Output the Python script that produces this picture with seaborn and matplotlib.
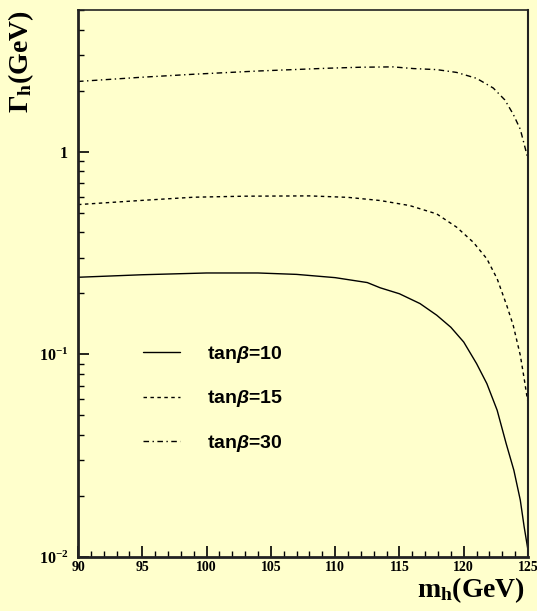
import numpy as np
import pandas as pd
import matplotlib
matplotlib.use("Agg")
import matplotlib.pyplot as plt
import matplotlib.ticker as mticker
import seaborn as sns

# ---- data ----
m_tb10 = [90, 95, 100, 104, 107, 110, 112.5, 113.5, 115.0, 116.6, 117.9, 119.0, 120.0, 121.0,
          121.8, 122.6, 123.3, 123.9, 124.4, 124.7, 125]
g_tb10 = [0.240, 0.247, 0.252, 0.252, 0.248, 0.239, 0.226, 0.213, 0.199, 0.178, 0.156, 0.136,
          0.115, 0.090, 0.0717, 0.053, 0.0363, 0.0268, 0.0191, 0.0141, 0.0108]

m_tb15 = [90, 95, 99, 103, 108, 111, 113.5, 115.8, 117.9, 119.45, 120.75, 121.8, 122.6, 123.35,
          123.85, 124.4, 124.7, 124.9, 125]
g_tb15 = [0.548, 0.575, 0.596, 0.603, 0.605, 0.595, 0.574, 0.542, 0.493, 0.424, 0.357, 0.296,
          0.236, 0.174, 0.139, 0.099, 0.076, 0.063, 0.058]

m_tb30 = [90, 95, 99, 104, 109.4, 112, 114.5, 116.1, 117.9, 119.45, 121.0, 122.3, 123.2, 123.85,
          124.4, 124.7, 125]
g_tb30 = [2.22, 2.33, 2.41, 2.50, 2.58, 2.61, 2.62, 2.57, 2.54, 2.46, 2.30, 2.06, 1.80, 1.53,
          1.29, 1.09, 0.92]

series_labels = [r"tan$\beta$=10", r"tan$\beta$=15", r"tan$\beta$=30"]
x_ticks = [90, 95, 100, 105, 110, 115, 120, 125]
y_ticks = [0.01, 0.1, 1]
y_tick_labels = [r"$\mathbf{10^{-2}}$", r"$\mathbf{10^{-1}}$", r"$\mathbf{1}$"]

df = pd.concat([
    pd.DataFrame({"m": m_tb10, "G": g_tb10, "s": series_labels[0]}),
    pd.DataFrame({"m": m_tb15, "G": g_tb15, "s": series_labels[1]}),
    pd.DataFrame({"m": m_tb30, "G": g_tb30, "s": series_labels[2]}),
], ignore_index=True)

bg = "#ffffcc"
sns.set_style("ticks")
plt.rcParams["font.family"] = ["Liberation Serif", "DejaVu Serif"]
plt.rcParams["text.color"] = "black"
plt.rcParams["xtick.color"] = "black"
plt.rcParams["ytick.color"] = "black"
plt.rcParams["xtick.labelcolor"] = "black"
plt.rcParams["ytick.labelcolor"] = "black"
plt.rcParams["mathtext.fontset"] = "custom"
plt.rcParams["mathtext.rm"] = "Liberation Serif"
plt.rcParams["mathtext.bf"] = "Liberation Serif:bold"
plt.rcParams["mathtext.it"] = "Liberation Sans:italic:bold"

fig = plt.figure(figsize=(5.37, 6.11), dpi=100, facecolor=bg)
ax = fig.add_axes([78 / 537, 1 - 557 / 611, 450 / 537, 547 / 611])
ax.set_facecolor(bg)

sns.lineplot(data=df, x="m", y="G", hue="s", style="s", sort=False,
             palette=["black"] * 3, dashes=["", (2.5, 2.5), (4, 2.5, 1, 2.5)],
             linewidth=1.0, ax=ax, estimator=None)

ax.set_yscale("log")
ax.set_xlim(90, 125)
ax.set_ylim(0.01, 5.0)

ax.set_xticks(x_ticks)
ax.set_xticklabels([str(t) for t in x_ticks], fontsize=10, fontweight="bold")
ax.xaxis.set_minor_locator(mticker.MultipleLocator(1))
ax.set_yticks(y_ticks)
ax.set_yticklabels(y_tick_labels, fontsize=11.5)
ax.yaxis.set_minor_locator(mticker.LogLocator(base=10, subs=np.arange(2, 10)))
ax.yaxis.set_minor_formatter(mticker.NullFormatter())

ax.tick_params(axis="both", which="major", direction="in", length=8, width=1.2,
               top=False, right=False, pad=3)
ax.tick_params(axis="y", which="major", pad=7)
ax.tick_params(axis="both", which="minor", direction="in", length=4, width=1.0,
               top=False, right=False)

for side in ["left", "bottom", "right", "top"]:
    ax.spines[side].set_visible(True)
    ax.spines[side].set_color("#222222")
ax.spines["left"].set_linewidth(2)
ax.spines["bottom"].set_linewidth(2)
ax.spines["right"].set_linewidth(1.5)
ax.spines["top"].set_linewidth(1.2)

ax.set_xlabel("")
ax.set_ylabel("")
fig.text(525 / 537, 1 - 590 / 611, r"$\mathbf{m_h}$(GeV)", ha="right", va="center",
         fontsize=20, fontweight="bold")
fig.text(21 / 537, 1 - 62 / 611, r"$\mathbf{\Gamma_h}$(GeV)", ha="center", va="center",
         rotation=90, fontsize=20, fontweight="bold")

leg = ax.legend(loc="upper left", bbox_to_anchor=(47.5 / 450, 1 - 316.5 / 547), frameon=False,
                handlelength=1.9, handletextpad=1.4, labelspacing=1.2,
                prop={"family": "Liberation Sans", "weight": "bold", "size": 14})

fig.savefig("out.png", dpi=100, facecolor=bg)
